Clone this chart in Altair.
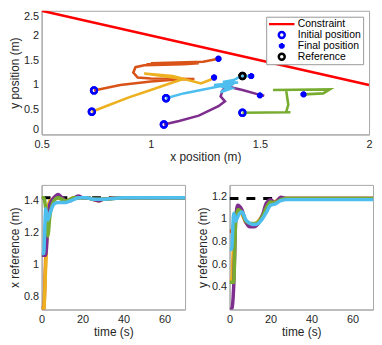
import altair as alt
import pandas as pd

# ---------------- data ----------------
names = ["orange", "yellow", "purple", "green", "cyan"]
colors = ["#D95319", "#EDB120", "#7E2F8E", "#77AC30", "#4DBEEE"]

traj_x = {
    "orange": [0.74, 0.86, 1.00, 1.12, 1.20, 1.00, 0.94, 0.92, 0.93, 0.97, 1.15, 1.22, 0.98, 1.18, 1.00, 1.24, 1.31],
    "yellow": [0.73, 0.80, 0.90, 1.00, 1.10, 1.15, 0.97, 1.10, 1.23, 1.27, 1.29],
    "purple": [1.06, 1.13, 1.22, 1.31, 1.34, 1.32, 1.33, 1.35, 1.42, 1.50, 1.52],
    "green": [1.42, 1.64, 1.62, 1.63, 1.62, 1.56, 1.82, 1.79, 1.70],
    "cyan": [1.07, 1.15, 1.23, 1.31, 1.38, 1.32, 1.37, 1.29, 1.40, 1.33, 1.38, 1.41, 1.46],
}
traj_y = {
    "orange": [0.89, 1.00, 1.07, 1.11, 1.12, 1.13, 1.15, 1.25, 1.36, 1.40, 1.42, 1.44, 1.42, 1.46, 1.44, 1.47, 1.53],
    "yellow": [0.46, 0.58, 0.75, 0.90, 1.05, 1.12, 1.23, 1.18, 1.03, 1.10, 1.15],
    "purple": [0.20, 0.27, 0.38, 0.57, 0.67, 0.77, 0.90, 0.97, 0.90, 0.80, 0.78],
    "green": [0.44, 0.45, 0.45, 0.60, 0.90, 0.90, 0.91, 0.83, 0.81],
    "cyan": [0.73, 0.83, 0.90, 0.97, 1.03, 0.85, 0.93, 1.00, 1.05, 1.06, 1.10, 1.17, 1.18],
}
init_x = [0.74, 0.73, 1.06, 1.42, 1.07]
init_y = [0.89, 0.46, 0.20, 0.44, 0.73]
final_x = [1.31, 1.29, 1.50, 1.70, 1.46]
final_y = [1.53, 1.15, 0.79, 0.81, 1.18]
ref_x = [1.42]
ref_y = [1.18]
constraint_x = [0.5, 2.0]
constraint_y = [2.5, 1.0]

t = [0, 1, 2, 3, 4, 6, 8, 10, 12, 14, 16, 18, 20, 22, 25, 28, 30, 40, 70]
xref_series = {
    "orange": [0.74, 0.72, 1.05, 1.30, 1.40, 1.41, 1.42, 1.41, 1.40, 1.41, 1.42, 1.42, 1.42, 1.42, 1.41, 1.40, 1.41, 1.42, 1.42],
    "yellow": [0.73, 0.72, 1.00, 1.32, 1.40, 1.41, 1.42, 1.41, 1.40, 1.41, 1.42, 1.42, 1.42, 1.42, 1.41, 1.40, 1.41, 1.42, 1.42],
    "purple": [1.06, 1.06, 1.06, 1.25, 1.38, 1.42, 1.44, 1.42, 1.40, 1.40, 1.42, 1.43, 1.42, 1.42, 1.41, 1.40, 1.41, 1.42, 1.42],
    "green": [1.42, 1.42, 1.35, 1.18, 1.30, 1.40, 1.42, 1.41, 1.40, 1.41, 1.42, 1.42, 1.42, 1.42, 1.41, 1.41, 1.41, 1.42, 1.42],
    "cyan": [1.07, 1.07, 1.35, 1.28, 1.32, 1.38, 1.39, 1.39, 1.39, 1.40, 1.41, 1.42, 1.42, 1.42, 1.41, 1.41, 1.41, 1.42, 1.42],
}
yref_series = {
    "orange": [0.89, 0.89, 0.95, 1.02, 1.10, 1.05, 0.97, 0.95, 0.95, 0.97, 1.02, 1.10, 1.16, 1.15, 1.18, 1.18, 1.18, 1.18, 1.18],
    "yellow": [0.46, 0.46, 0.80, 1.00, 1.10, 1.05, 0.97, 0.95, 0.95, 0.98, 1.03, 1.10, 1.16, 1.15, 1.18, 1.18, 1.18, 1.18, 1.18],
    "purple": [0.20, 0.20, 0.40, 1.00, 1.12, 1.08, 0.97, 0.93, 0.93, 0.96, 1.03, 1.14, 1.17, 1.14, 1.19, 1.18, 1.18, 1.18, 1.18],
    "green": [0.44, 0.44, 0.44, 0.98, 1.08, 1.06, 0.98, 0.96, 0.96, 0.97, 1.02, 1.10, 1.15, 1.14, 1.17, 1.18, 1.18, 1.18, 1.18],
    "cyan": [0.73, 0.73, 1.05, 0.98, 1.02, 1.06, 0.99, 0.96, 0.95, 0.96, 1.00, 1.06, 1.12, 1.13, 1.16, 1.17, 1.17, 1.17, 1.17],
}
xref_target = 1.42
yref_target = 1.18

legend_labels = ["Constraint", "Initial position", "Final position", "Reference"]
line_sym = "M-4.3,0L4.3,0"
asterisk = "M-1,0L1,0M0,-1L0,1M-0.7,-0.7L0.7,0.7M-0.7,0.7L0.7,-0.7"

FONT = "Liberation Sans"
TXT = "#262626"
FRAME = "#a6a6a6"

# ---------------- top chart ----------------
xs = alt.Scale(domain=[0.5, 2.0], nice=False, zero=False)
ys = alt.Scale(domain=[0, 2.5], nice=False, zero=False)
xax = alt.Axis(values=[0.5, 1, 1.5, 2], title="x position (m)", grid=False, format=".1~f")
yax = alt.Axis(values=[0, 0.5, 1, 1.5, 2, 2.5], title="y position (m)", grid=False, format=".1~f",
               labelFlush=True)

traj_rows = []
for n in names:
    for i, (a, b) in enumerate(zip(traj_x[n], traj_y[n])):
        traj_rows.append({"name": n, "i": i, "x": a, "y": b})
traj_df = pd.DataFrame(traj_rows)

layers = []
for n, c in zip(names, colors):
    layers.append(
        alt.Chart(traj_df[traj_df.name == n]).mark_line(color=c, strokeWidth=2.6, clip=True).encode(
            x=alt.X("x:Q", scale=xs, axis=xax),
            y=alt.Y("y:Q", scale=ys, axis=yax),
            order="i:Q",
        )
    )

stroke_scale = alt.Scale(domain=legend_labels, range=["#ff0000", "#0000ff", "#0000ff", "#000000"])
shape_scale = alt.Scale(domain=legend_labels, range=[line_sym, "circle", asterisk, "circle"])
legend = alt.Legend(
    title=None, orient="top-right", offset=6, fillColor="white", strokeColor="#999999",
    padding=2, labelFontSize=10.5, labelFont=FONT, labelColor="#000000", symbolStrokeWidth=2.5,
    symbolSize=36, rowPadding=0, clipHeight=11, labelOffset=11, symbolOffset=8.5,
    symbolFillColor="transparent",
)

cons_df = pd.DataFrame({"x": constraint_x, "y": constraint_y, "kind": "Constraint"})
cons = alt.Chart(cons_df).mark_line(strokeWidth=2.6, clip=True).encode(
    x=alt.X("x:Q", scale=xs, axis=xax),
    y=alt.Y("y:Q", scale=ys, axis=yax),
    stroke=alt.Stroke("kind:N", scale=stroke_scale, legend=legend),
)

pts_df = pd.concat([
    pd.DataFrame({"x": init_x, "y": init_y, "kind": "Initial position"}),
    pd.DataFrame({"x": final_x, "y": final_y, "kind": "Final position"}),
    pd.DataFrame({"x": ref_x, "y": ref_y, "kind": "Reference"}),
])
pts = alt.Chart(pts_df).mark_point(filled=False, strokeWidth=2.5, size=36, opacity=1).encode(
    x=alt.X("x:Q", scale=xs, axis=xax),
    y=alt.Y("y:Q", scale=ys, axis=yax),
    stroke=alt.Stroke("kind:N", scale=stroke_scale, legend=legend),
    shape=alt.Shape("kind:N", scale=shape_scale, legend=legend),
)

top = alt.layer(pts, cons, *layers, pts).properties(width=331, height=125)

# ---------------- time charts ----------------
def time_chart(series, target, ydomain, yvals, ytitle):
    rows = []
    for n in names:
        for tt, v in zip(t, series[n]):
            rows.append({"name": n, "t": tt, "v": v})
    df = pd.DataFrame(rows)
    tx = alt.Scale(domain=[0, 70], nice=False, zero=False)
    ty = alt.Scale(domain=ydomain, nice=False, zero=False)
    tax = alt.Axis(values=[0, 20, 40, 60], title="time (s)", grid=False, format="d")
    tyax = alt.Axis(values=yvals, title=ytitle, grid=False, format=".1~f")
    ref_df = pd.DataFrame({"t": [0, 70], "v": [target, target]})
    ref = alt.Chart(ref_df).mark_line(color="black", strokeWidth=3, strokeDash=[9, 8], clip=True).encode(
        x=alt.X("t:Q", scale=tx, axis=tax), y=alt.Y("v:Q", scale=ty, axis=tyax)
    )
    ls = [ref]
    for n, c in zip(names, colors):
        ls.append(
            alt.Chart(df[df.name == n]).mark_line(color=c, strokeWidth=3.5, clip=True, interpolate="monotone").encode(
                x=alt.X("t:Q", scale=tx, axis=tax), y=alt.Y("v:Q", scale=ty, axis=tyax)
            )
        )
    return alt.layer(*ls).properties(width=145, height=126)

bl = time_chart(xref_series, xref_target, [0.72, 1.5], [0.8, 1.0, 1.2, 1.4], "x reference (m)")
br = time_chart(yref_series, yref_target, [0.2, 1.3], [0.4, 0.6, 0.8, 1.0, 1.2], "y reference (m)")

bottom = alt.hconcat(bl, br, spacing=10)

chart = alt.vconcat(top, bottom, spacing=21).resolve_legend(
    stroke="independent", shape="independent"
).properties(
    padding={"left": 0, "top": 0, "right": 0, "bottom": 0}
).configure_view(stroke=FRAME, strokeWidth=1).configure_axis(
    labelFont=FONT, titleFont=FONT, labelFontSize=11, titleFontSize=12,
    labelColor=TXT, titleColor=TXT, titleFontWeight="normal",
    domainColor=FRAME, ticks=False, labelPadding=3, titlePadding=2,
    labelFlush=False,
).configure_axisX(labelPadding=4)

chart.save("out.html", embed_options={"renderer": "svg", "actions": False})
